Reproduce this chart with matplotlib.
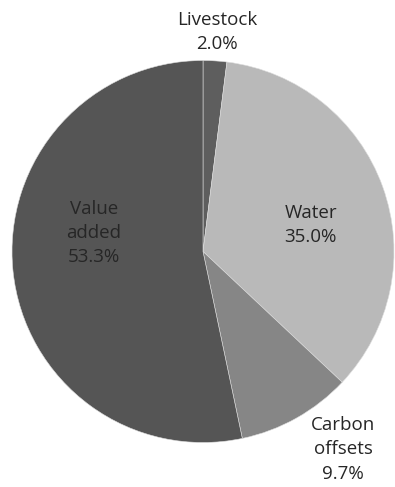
import numpy as np
import matplotlib
matplotlib.use("Agg")
import matplotlib.pyplot as plt

# Shares of the total (percent)
categories = ["Livestock", "Water", "Carbon\noffsets", "Value\nadded"]
shares = [2.0, 35.0, 9.7, 53.3]
colors = ["#5e5e5e", "#b9b9b9", "#868686", "#555555"]

# label placement: radial distance (in radii) and angle tweak (degrees) per wedge
label_dist = [1.15, 0.58, 1.27, 0.58]
label_shift = [0.0, -6.0, 6.0, -15.5]

plt.rcParams["font.family"] = ["Open Sans", "DejaVu Sans"]

R = 191.0
cx, cy = 203.0, 487 - 251.5
fig = plt.figure(figsize=(3.95, 4.87), dpi=100)
ax = fig.add_axes([0, 0, 1, 1])

wedges, _ = ax.pie(shares, colors=colors, startangle=90, counterclock=False,
                   radius=1.0, wedgeprops=dict(edgecolor="#dddddd", linewidth=0.4))
ax.set_xlim(-cx / R, (395 - cx) / R)
ax.set_ylim(-cy / R, (487 - cy) / R)
ax.axis("off")

for w, name, val, d, s in zip(wedges, categories, shares, label_dist, label_shift):
    ang = np.deg2rad((w.theta1 + w.theta2) / 2 + s)
    x, y = d * np.cos(ang), d * np.sin(ang)
    ax.text(x, y, "{}\n{:.1f}%".format(name, val), ha="center", va="center",
            fontsize=13.5, color="#262626", linespacing=1.45)

fig.savefig("out.png", dpi=100, facecolor="white")
